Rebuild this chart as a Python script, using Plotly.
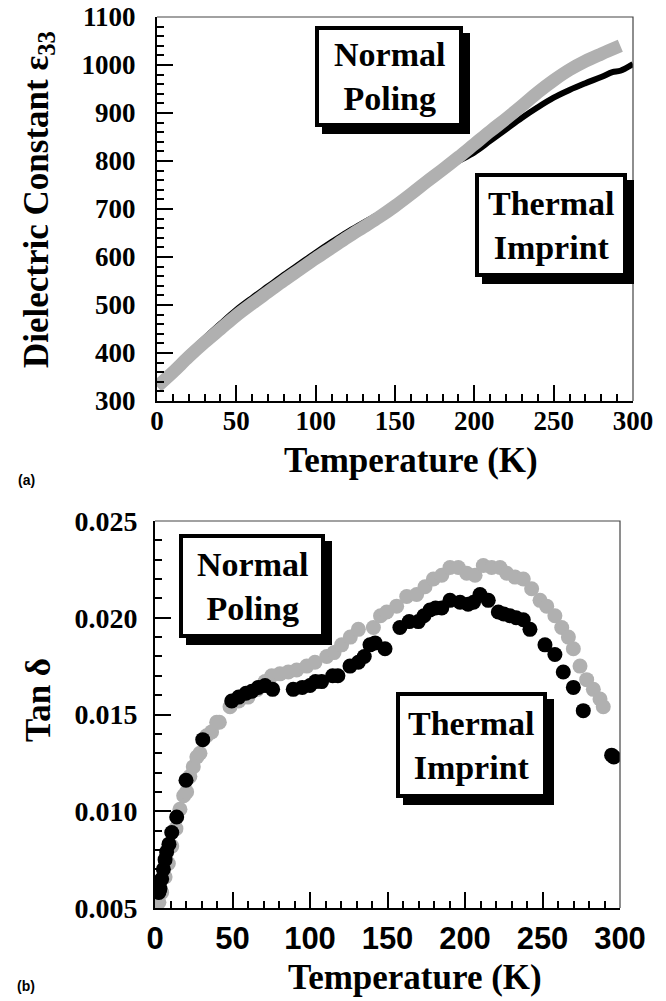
import plotly.graph_objects as go

# ---------------- data: (a) dielectric constant ----------------
temp_np_a = [0, 10, 20, 30, 40, 50, 60, 70, 80, 90, 100, 110, 120, 130, 140,
             150, 160, 170, 180, 190, 200, 210, 220, 230, 240, 250, 260, 270, 280, 292]
eps_np = [330, 360, 392, 422, 450, 478, 503, 527, 551, 574, 597, 619, 641, 662, 683,
          706, 731, 757, 782, 808, 835, 862, 888, 915, 943, 968, 990, 1008, 1023, 1040]

temp_ti_a = [3, 10, 20, 30, 40, 50, 60, 70, 80, 90, 100, 110, 120, 130, 140, 150,
             160, 170, 180, 190, 200, 210, 220, 230, 240, 250, 260, 270, 280, 287, 292, 300]
eps_ti = [338, 368, 400, 431, 461, 490, 515, 539, 563, 586, 609, 631, 652, 671, 690, 712,
          735, 760, 782, 800, 818, 842, 866, 890, 912, 932, 948, 962, 975, 985, 988, 1002]

# ---------------- data: (b) loss tangent ----------------
temp_np_b = [2.5, 4.3, 6.5, 8.6, 10.8, 13.5, 16.1, 18.5, 20.4, 22.5,
             24.7, 27, 29, 33.3, 36.5, 39.8, 41.5, 48.4, 54, 60,
             66, 71, 75.3, 80.6, 86, 91.4, 97.9, 103.2, 110.8, 115.5,
             120.4, 126, 131.2, 140.9, 145.5, 149.5, 155.9, 162.4, 168.8, 174.2,
             179.6, 185, 190.3, 195.7, 201.1, 206.5, 211.8, 217.2, 222.6, 226.9,
             232.3, 237.6, 243, 248.4, 252.7, 258, 262.4, 266.7, 269.9, 274.2,
             278.5, 282.8, 287.1, 289.2]
tan_np = [0.0053, 0.0058, 0.0066, 0.0073, 0.0082, 0.0091, 0.0101, 0.0108, 0.0110, 0.0118,
          0.0123, 0.0128, 0.0130, 0.0139, 0.0141, 0.0146, 0.0146, 0.0154, 0.0157, 0.0159,
          0.0163, 0.0167, 0.0170, 0.0171, 0.0172, 0.0173, 0.0175, 0.0177, 0.0180, 0.0182,
          0.0186, 0.0190, 0.0194, 0.0195, 0.0201, 0.0203, 0.0206, 0.0211, 0.0212, 0.0216,
          0.0220, 0.0222, 0.0226, 0.0226, 0.0223, 0.0222, 0.0227, 0.0226, 0.0226, 0.0223,
          0.0221, 0.0220, 0.0215, 0.0209, 0.0206, 0.0201, 0.0195, 0.0190, 0.0184, 0.0175,
          0.0168, 0.0163, 0.0158, 0.0154]

temp_ti_b = [2.5, 3.2, 4.3, 5.4, 6.5, 7.5, 9, 10.8, 14, 20,
             30.8, 49.5, 54, 58.7, 62.5, 66.7, 71, 75.9, 89.2, 95,
             100, 103.5, 107.5, 114.6, 118, 125.8, 131.2, 135, 138.7, 142,
             148.4, 158, 164, 169.9, 173.5, 177.4, 181, 185, 190.3, 196.8,
             202, 205.5, 209.7, 215, 221.5, 225, 229, 233, 237.6, 241.9,
             251.6, 258, 263.4, 269.9, 276.3, 294.6, 296]
tan_ti = [0.0058, 0.0060, 0.0065, 0.0070, 0.0075, 0.0079, 0.0083, 0.0089, 0.0097, 0.0116,
          0.0137, 0.0157, 0.0159, 0.0161, 0.0162, 0.0164, 0.0165, 0.0163, 0.0163, 0.0164,
          0.0165, 0.0167, 0.0167, 0.0170, 0.0170, 0.0175, 0.0177, 0.0180, 0.0186, 0.0187,
          0.0184, 0.0195, 0.0198, 0.0198, 0.0201, 0.0204, 0.0205, 0.0205, 0.0209, 0.0208,
          0.0207, 0.0208, 0.0212, 0.0209, 0.0203, 0.0202, 0.0201, 0.0200, 0.0199, 0.0194,
          0.0186, 0.0181, 0.0172, 0.0164, 0.0152, 0.0129, 0.0128]

W, H = 666, 1001
GRAY = "#b0b0b0"
SERIF = "Liberation Serif"
SANS = "Liberation Sans"


def px(x):
    return x / W


def py(y):
    return 1 - y / H


fig = go.Figure()

# (a) Thermal Imprint underneath, Normal Poling band on top
fig.add_trace(go.Scatter(x=temp_ti_a, y=eps_ti, mode="lines",
                         line=dict(color="black", width=6, shape="spline"),
                         xaxis="x", yaxis="y", showlegend=False))
fig.add_trace(go.Scatter(x=temp_np_a, y=eps_np, mode="lines",
                         line=dict(color=GRAY, width=13, shape="spline"),
                         xaxis="x", yaxis="y", showlegend=False))

# (b) Normal Poling points under Thermal Imprint points
fig.add_trace(go.Scatter(x=temp_np_b, y=tan_np, mode="markers",
                         marker=dict(color=GRAY, size=15, line=dict(width=0)),
                         xaxis="x2", yaxis="y2", showlegend=False))
fig.add_trace(go.Scatter(x=temp_ti_b, y=tan_ti, mode="markers",
                         marker=dict(color="black", size=15, line=dict(width=0)),
                         xaxis="x2", yaxis="y2", showlegend=False))

# plot areas in pixels
A = dict(l=157, r=633, t=17, b=401)
B = dict(l=155, r=620, t=521, b=908)

common_axis = dict(showline=True, linecolor="black", linewidth=2,
                   ticks="inside", tickcolor="black", tickwidth=1.5, ticklen=16,
                   showgrid=False, zeroline=False, mirror=False, automargin=False)
minor_style = dict(ticks="inside", ticklen=7, tickcolor="black", tickwidth=1.5)

fig.update_layout(
    width=W, height=H, margin=dict(l=0, r=0, t=0, b=0, autoexpand=False),
    paper_bgcolor="white", plot_bgcolor="white",
    xaxis=dict(domain=[px(A["l"]), px(A["r"])], anchor="y", range=[0, 300],
               dtick=50, tick0=0, minor=dict(dtick=10, **minor_style),
               tickfont=dict(family=SERIF, size=27, weight="bold", color="black"),
               ticklabelstandoff=-5, **common_axis),
    yaxis=dict(domain=[py(A["b"]), py(A["t"])], anchor="x", range=[300, 1100],
               dtick=100, tick0=300, minor=dict(dtick=20, **minor_style),
               tickfont=dict(family=SERIF, size=27, weight="bold", color="black"),
               ticklabelstandoff=14, **common_axis),
    xaxis2=dict(domain=[px(B["l"]), px(B["r"])], anchor="y2", range=[0, 300],
                dtick=50, tick0=0, minor=dict(dtick=10, **minor_style),
                tickfont=dict(family=SANS, size=31, weight="bold", color="black"),
                ticklabelstandoff=2, **common_axis),
    yaxis2=dict(domain=[py(B["b"]), py(B["t"])], anchor="x2", range=[0.005, 0.025],
                dtick=0.005, tick0=0.005, tickformat=".3f",
                minor=dict(dtick=0.001, **minor_style),
                tickfont=dict(family=SERIF, size=28, weight="bold", color="black"),
                ticklabelstandoff=10, **common_axis),
)

shapes = []
# thin top/right frame edges
for P in (A, B):
    shapes.append(dict(type="path", xref="paper", yref="paper",
                       path=f"M {px(P['l'])} {py(P['t'])} L {px(P['r'])} {py(P['t'])} L {px(P['r'])} {py(P['b'])}",
                       line=dict(color="#444444", width=1.2)))


def label_box(x0, y0, x1, y1, text):
    # drop shadow, then framed white box, then the label
    shapes.append(dict(type="rect", xref="paper", yref="paper",
                       x0=px(x0 + 7), x1=px(x1 + 7), y0=py(y1 + 7), y1=py(y0 + 7),
                       fillcolor="black", line=dict(width=0)))
    shapes.append(dict(type="rect", xref="paper", yref="paper",
                       x0=px(x0 + 2), x1=px(x1 - 2), y0=py(y1 - 2), y1=py(y0 + 2),
                       fillcolor="white", line=dict(color="black", width=4)))
    fig.add_annotation(xref="paper", yref="paper", x=px((x0 + x1) / 2), y=py((y0 + y1) / 2),
                       text=text, showarrow=False, xanchor="center", yanchor="middle",
                       font=dict(family=SERIF, size=34, weight="bold", color="black"))


label_box(315, 26, 463, 127, "Normal<br>Poling")
label_box(475, 173, 627, 277, "Thermal<br>Imprint")
label_box(179, 534, 325, 638, "Normal<br>Poling")
label_box(396, 692, 547, 798, "Thermal<br>Imprint")

fig.update_layout(shapes=shapes)

title_font = dict(family=SERIF, size=35, weight="bold", color="black")
fig.add_annotation(xref="paper", yref="paper", x=px(411), y=py(460), text="Temperature (K)",
                   showarrow=False, xanchor="center", yanchor="middle", font=title_font)
fig.add_annotation(xref="paper", yref="paper", x=px(415), y=py(977), text="Temperature (K)",
                   showarrow=False, xanchor="center", yanchor="middle", font=title_font)
fig.add_annotation(xref="paper", yref="paper", x=px(38), y=py(200),
                   text="Dielectric Constant ε<sub>33</sub>", textangle=-90,
                   showarrow=False, xanchor="center", yanchor="middle", font=title_font)
fig.add_annotation(xref="paper", yref="paper", x=px(38), y=py(700), text="Tan δ", textangle=-90,
                   showarrow=False, xanchor="center", yanchor="middle", font=title_font)
fig.add_annotation(xref="paper", yref="paper", x=px(26), y=py(480), text="(a)",
                   showarrow=False, xanchor="center", yanchor="middle",
                   font=dict(family=SANS, size=14, weight="bold", color="black"))
fig.add_annotation(xref="paper", yref="paper", x=px(26), y=py(986), text="(b)",
                   showarrow=False, xanchor="center", yanchor="middle",
                   font=dict(family=SANS, size=14, weight="bold", color="black"))

fig.write_html("out.html")
